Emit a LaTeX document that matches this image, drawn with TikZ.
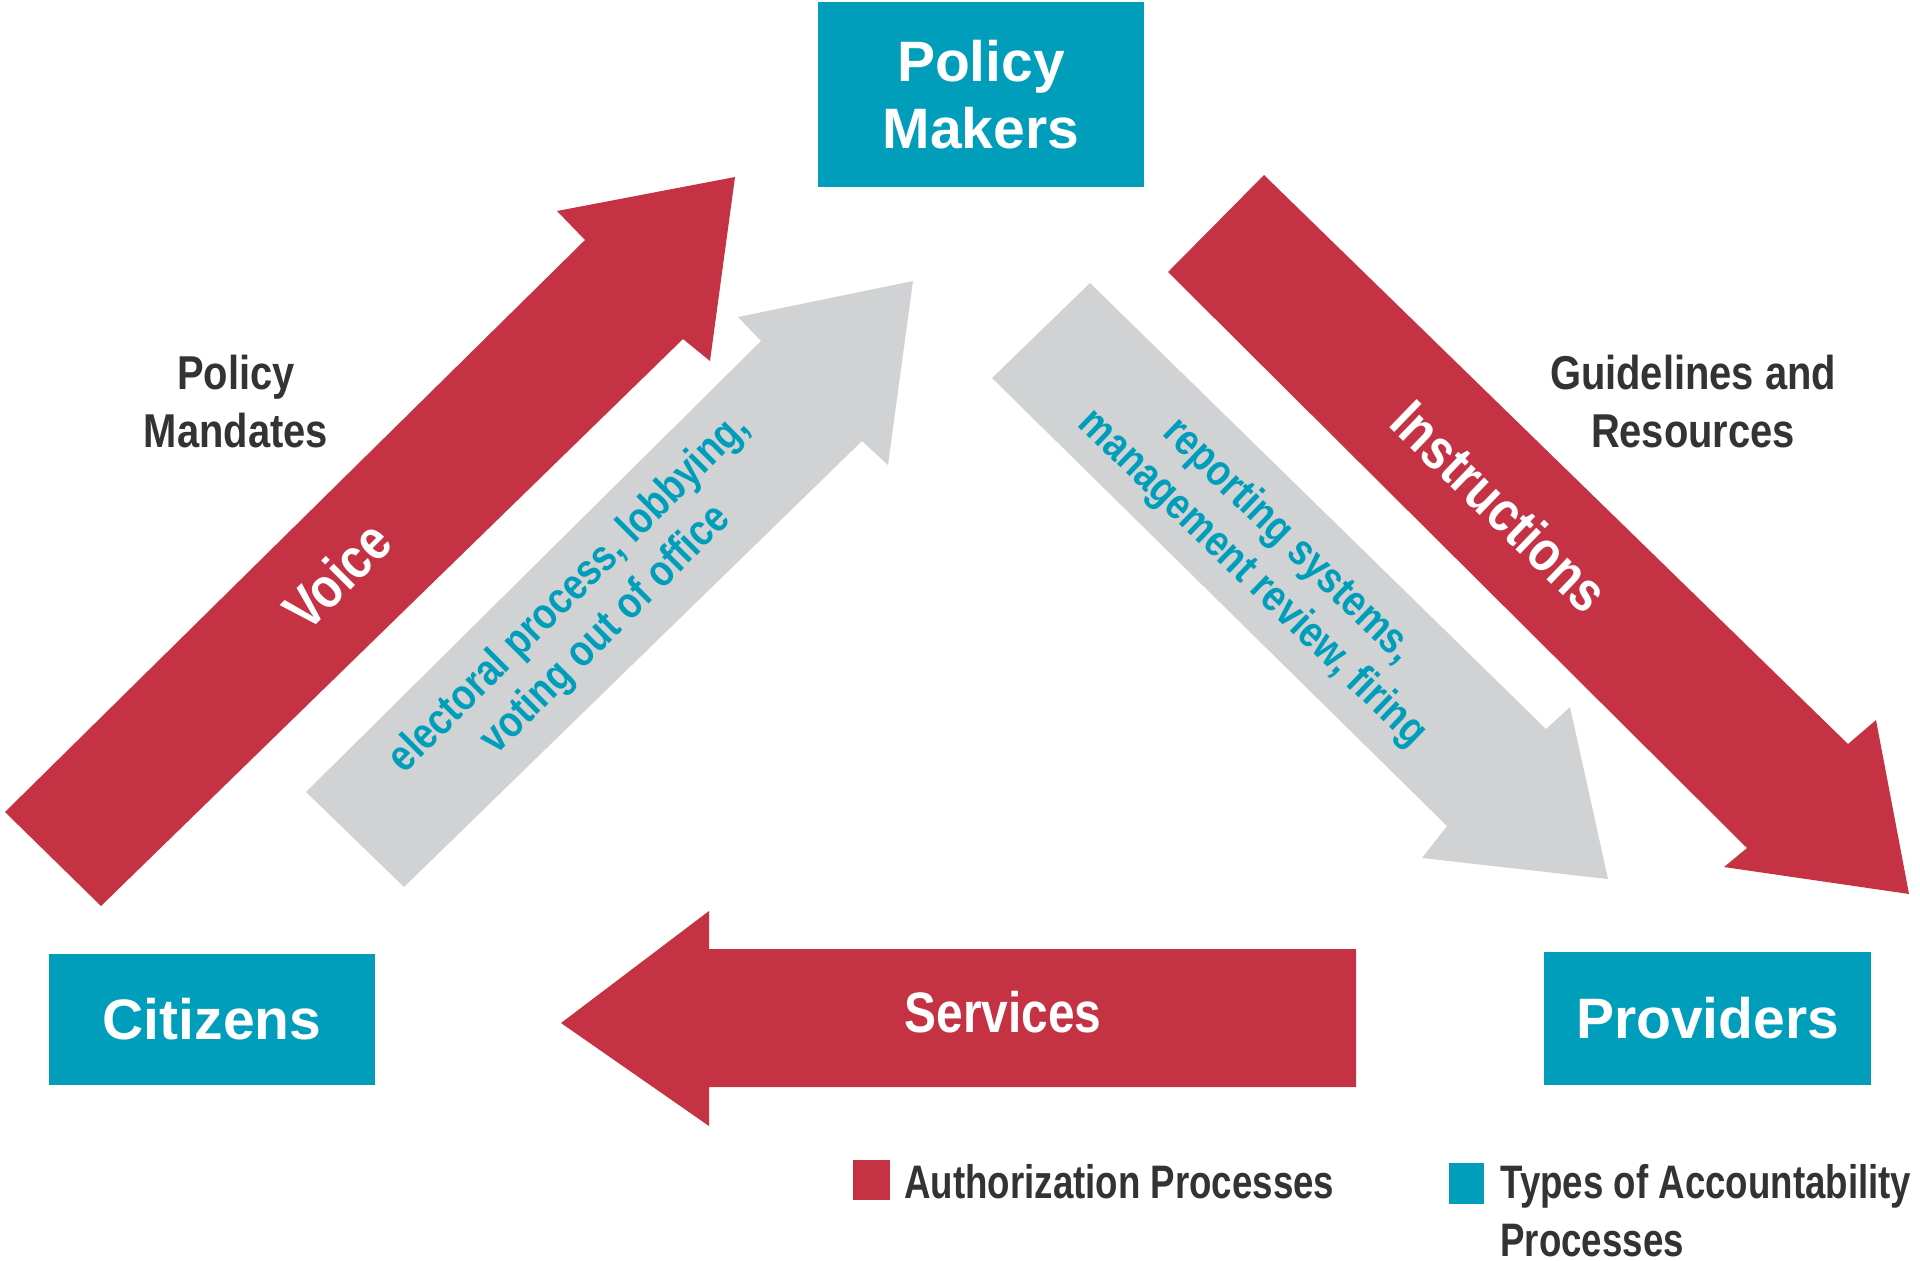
\documentclass[tikz,border=0pt]{standalone}
\usepackage{fontspec}
\setmainfont{Liberation Sans}
\newfontfamily\narrowfont{Liberation Sans}[FakeStretch=0.84]
\newfontfamily\legendfont{Liberation Sans}[FakeStretch=0.78]
\definecolor{authred}{HTML}{C43243}
\definecolor{accteal}{HTML}{009EBA}
\definecolor{procgray}{HTML}{D1D2D4}
\definecolor{labeldark}{HTML}{333333}

\begin{document}
\begin{tikzpicture}
	[x=0.5pt,y=-0.5pt,
	actor/.style={fill=accteal, text=white, align=center, inner sep=0pt,
		font=\bfseries\fontsize{28.5}{33.5}\selectfont},
	arrowtext/.style={text=white, inner sep=0pt,
		font=\narrowfont\bfseries\fontsize{28.5}{33}\selectfont},
	viatext/.style={text=accteal, align=center, inner sep=0pt,
		font=\narrowfont\bfseries\fontsize{22}{26}\selectfont},
	sidetext/.style={text=labeldark, align=center, inner sep=0pt,
		font=\narrowfont\bfseries\fontsize{23.75}{29}\selectfont},
	keytext/.style={text=labeldark, align=left, inner sep=0pt,
		font=\legendfont\bfseries\fontsize{23.5}{29}\selectfont}]
	\useasboundingbox (0,0) rectangle (1920,1260);
	
	% block arrows
	\fill[authred] (101,906) -- (5,812) -- (585,240) -- (557,211) -- (735,177) -- (710,361) -- (683,339) -- cycle;
	\fill[procgray] (404,887) -- (306,792) -- (761,341) -- (738,317) -- (913,281) -- (888,465) -- (862,441) -- cycle;
	\fill[authred] (1168,272) -- (1264,175) -- (1848,744) -- (1876,720) -- (1909,894) -- (1724,867) -- (1747,848) -- cycle;
	\fill[procgray] (992,378) -- (1090,283) -- (1546,729) -- (1570,707) -- (1608,879) -- (1422,858) -- (1447,826) -- cycle;
	\fill[authred] (561,1023) -- (709,911) -- (709,949) -- (1356,949) -- (1356,1087) -- (709,1087) -- (709,1126) -- cycle;
	
	% actors
	\node[actor, minimum width=163pt, minimum height=92.5pt] (pm) at (981,94.5) {Policy\\Makers};
	\node[actor, minimum width=163pt, minimum height=65.5pt] (cz) at (212,1019.5) {Citizens};
	\node[actor, minimum width=163.5pt, minimum height=66.5pt] (pr) at (1707.5,1018.5) {Providers};
	
	% arrow labels
	\node[arrowtext, rotate=45] (voice) at (337,575) {Voice};
	\node[arrowtext, rotate=-44] (instr) at (1500,506) {Instructions};
	\node[arrowtext] (serv) at (1003,1012) {Services};
	\node[viatext, rotate=45] (elect) at (588,612) {electoral process, lobbying,\\voting out of office};
	\node[viatext, rotate=-44] (report) at (1270,560) {reporting systems,\\management review, firing};
	\node[sidetext] (mand) at (236,402) {Policy\\Mandates};
	\node[sidetext] (guide) at (1693,402) {Guidelines and\\Resources};
	
	% legend
	\node[fill=authred, minimum width=18.5pt, minimum height=20pt, inner sep=0pt] (keyauth) at (871.5,1180) {};
	\node[fill=accteal, minimum width=17.5pt, minimum height=20.5pt, inner sep=0pt] (keyacc) at (1466.5,1183.5) {};
	\node[keytext, anchor=north west] (authtxt) at (904,1164) {Authorization Processes};
	\node[keytext, anchor=north west] (acctxt) at (1500,1164) {Types of Accountability\\Processes};
\end{tikzpicture}
\end{document}
